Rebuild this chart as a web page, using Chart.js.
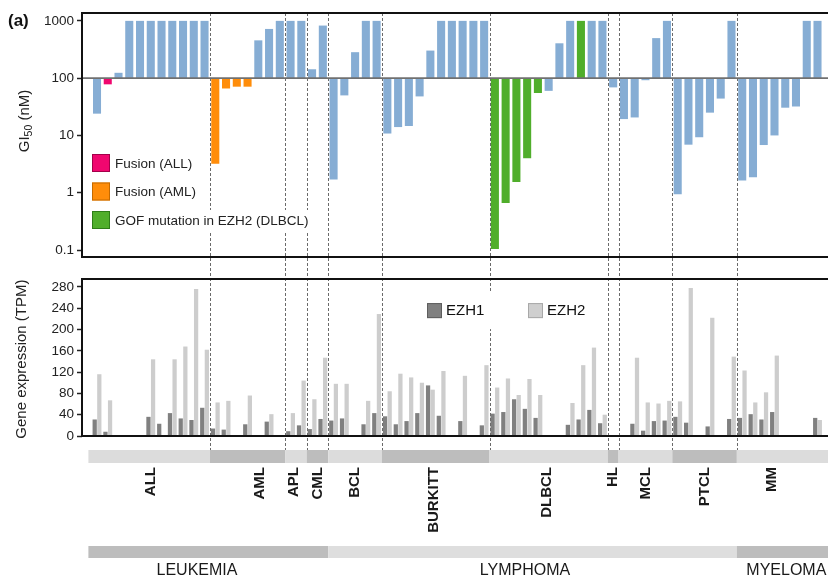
<!DOCTYPE html>
<html><head><meta charset="utf-8">
<script src="https://cdn.jsdelivr.net/npm/chart.js@4.4.1/dist/chart.umd.min.js"></script>
<style>
html,body{margin:0;padding:0;background:#fff;}
#wrap{position:relative;width:828px;height:578px;overflow:hidden;background:#fff;}
canvas{position:absolute;left:0;}
#top{top:0}
#bot{top:268px}
</style></head><body>
<div id="wrap"><canvas id="top" width="828" height="268"></canvas><canvas id="bot" width="828" height="310"></canvas></div>
<script>
// ---------------- DATA ----------------
const groupNames = ['ALL','AML','APL','CML','BCL','BURKITT','DLBCL','HL','MCL','PTCL','MM'];
const groupSizes = [11, 7, 2, 2, 5, 10, 11, 1, 5, 6, 8];
const superNames = ['LEUKEMIA','LYMPHOMA','MYELOMA'];
const superGroupCounts = [4, 6, 1];

// GI50 (nM) per cell line, bars drawn from 100 nM
const gi50 = [
  24, 78, 124, 1000, 1000, 1000, 1000, 1000, 1000, 1000, 1000,   // ALL
  3.2, 66, 71, 71, 457, 723, 1000,                               // AML
  1000, 1000,                                                    // APL
  143, 828,                                                      // CML
  1.7, 50, 284, 1000, 1000,                                      // BCL
  10.8, 14, 14.6, 48, 303, 1000, 1000, 1000, 1000, 1000,         // BURKITT
  0.104, 0.66, 1.54, 4.0, 55, 60, 406, 1000, 1000, 1000, 1000,   // DLBCL
  69,                                                            // HL
  19.3, 20.6, 92, 500, 1000,                                     // MCL
  0.94, 6.9, 9.3, 25, 44, 1000,                                  // PTCL
  1.63, 1.87, 6.8, 10, 30.5, 32, 1000, 1000                      // MM
];
// w = wild type, a = fusion (ALL), m = fusion (AML), g = GOF mutation in EZH2
const gi50Status = [
  'w','a','w','w','w','w','w','w','w','w','w',
  'm','m','m','m','w','w','w',
  'w','w',
  'w','w',
  'w','w','w','w','w',
  'w','w','w','w','w','w','w','w','w','w',
  'g','g','g','g','g','w','w','w','g','w','w',
  'w',
  'w','w','w','w','w',
  'w','w','w','w','w','w',
  'w','w','w','w','w','w','w','w'
];
// Gene expression (TPM)
const ezh1 = [
  31, 8, null, null, null, 36, 23, 43, 33, 30, 53,
  14, 12, null, 22, null, 27, null,
  9, 20,
  13, 32,
  29, 33, null, 22, 43,
  37, 22, 28, 43, 95, 38, null, 28, null, 20,
  42, 45, 69, 51, 34, null, null, 21, 31, 49, 24,
  null,
  null, 23, 10, 28, 29,
  36, 25, null, 18, null, 32,
  34, 41, 31, 45, null, null, null, 34
];
const ezh2 = [
  116, 67, null, null, null, 144, null, 144, 168, 276, 162,
  63, 66, null, 76, null, 41, null,
  43, 104,
  69, 147,
  98, 98, null, 66, 229,
  84, 117, 110, 100, 87, 122, null, 113, null, 133,
  91, 108, 77, 107, 77, null, null, 62, 133, 166, 40,
  null,
  null, 147, 63, 61, 66,
  65, 278, null, 222, null, 149,
  123, 63, 82, 151, null, null, null, 30
];
const gi50Ticks = [0.1, 1, 10, 100, 1000];
const tpmTicks = [0, 40, 80, 120, 160, 200, 240, 280];
const legendTop = ['Fusion (ALL)', 'Fusion (AML)', 'GOF mutation in EZH2 (DLBCL)'];
const legendBottom = ['EZH1', 'EZH2'];

// ---------------- LAYOUT / STYLE ----------------
const FONT = '"Liberation Sans", Arial, Helvetica, sans-serif';
Chart.defaults.font.family = FONT;
const X_MIN = -1.395, X_MAX = 67.79;
const statusColor = {w:'#86add4', a:'#f0076f', m:'#ff8d0a', g:'#50ae2b'};
const statusBorder = {a:'#a3004a', m:'#c46a00', g:'#2e7d18'};
const groupLabelPos = [4.93, 15.06, 18.2, 20.45, 23.9, 31.24, 41.75, 47.89, 50.95, 56.44, 62.67];
const superLabelPos = [9.3, 39.8, 64.1];
const BAND_START = -0.8, BAND_END = 68.5;

const groupStart = [];
(function(){ let a = 0; groupSizes.forEach(s => { groupStart.push(a); a += s; }); })();
const boundaries = groupStart.slice(1).map(s => s - 0.5);

function vline(ctx, x, y0, y1){ ctx.beginPath(); ctx.moveTo(x, y0); ctx.lineTo(x, y1); ctx.stroke(); }
function hline(ctx, x0, x1, y){ ctx.beginPath(); ctx.moveTo(x0, y); ctx.lineTo(x1, y); ctx.stroke(); }
function drawBorders(chart){
  const {ctx, chartArea:a, width} = chart;
  ctx.strokeStyle = '#111'; ctx.lineWidth = 2; ctx.setLineDash([]);
  hline(ctx, a.left - 1, width, a.top);
  hline(ctx, a.left - 1, width, a.bottom);
  vline(ctx, a.left, a.top, a.bottom);
}
function drawDashed(chart, y0, y1){
  const {ctx, scales:{x}} = chart;
  ctx.save();
  ctx.strokeStyle = '#6a6a6a'; ctx.lineWidth = 1; ctx.setLineDash([3, 2]);
  boundaries.forEach(b => { const px = Math.round(x.getPixelForValue(b)) + 0.5; vline(ctx, px, y0, y1); });
  ctx.restore();
}

const topPlugin = {
  id: 'topDeco',
  afterDraw(chart){
    const {ctx, chartArea:a, scales:{y}} = chart;
    ctx.save();
    // reference line at 100 nM
    const y100 = y.getPixelForValue(100);
    ctx.strokeStyle = '#707070'; ctx.lineWidth = 1.6;
    hline(ctx, a.left, chart.width, y100);
    drawDashed(chart, a.top, chart.height);
    // legend
    const lx = a.left + 10, ly0 = a.top + 141, dy = 28.5, bs = 18;
    const codes = ['a', 'm', 'g'];
    ctx.font = '13.5px ' + FONT;
    legendTop.forEach((t, k) => {
      const yy = ly0 + k * dy;
      const w = ctx.measureText(t).width;
      ctx.fillStyle = '#fff'; ctx.fillRect(lx + bs + 2, yy - 1, w + 6, bs + 3);
      ctx.fillStyle = statusColor[codes[k]]; ctx.fillRect(lx, yy, bs, bs);
      ctx.strokeStyle = statusBorder[codes[k]]; ctx.lineWidth = 1; ctx.strokeRect(lx + 0.5, yy + 0.5, bs - 1, bs - 1);
      ctx.fillStyle = '#222'; ctx.textAlign = 'left'; ctx.textBaseline = 'middle';
      ctx.fillText(t, lx + bs + 5, yy + bs / 2 + 1);
    });
    drawBorders(chart);
    // panel tag
    ctx.fillStyle = '#111'; ctx.font = 'bold 17px ' + FONT; ctx.textAlign = 'left'; ctx.textBaseline = 'middle';
    ctx.fillText('(a)', 8, 21);
    // y title  GI50 (nM)
    ctx.translate(24, 121); ctx.rotate(-Math.PI / 2);
    ctx.font = '15px ' + FONT;
    const w1 = ctx.measureText('GI').width;
    ctx.font = '10.5px ' + FONT; const w2 = ctx.measureText('50').width;
    ctx.font = '15px ' + FONT; const w3 = ctx.measureText(' (nM)').width;
    const tot = w1 + w2 + w3; let cx = -tot / 2;
    ctx.fillStyle = '#222'; ctx.textBaseline = 'alphabetic';
    ctx.fillText('GI', cx, 5); cx += w1;
    ctx.font = '10.5px ' + FONT; ctx.fillText('50', cx, 8); cx += w2;
    ctx.font = '15px ' + FONT; ctx.fillText(' (nM)', cx, 5);
    ctx.restore();
  }
};

const botPlugin = {
  id: 'botDeco',
  afterDraw(chart){
    const {ctx, chartArea:a, scales:{x}} = chart;
    ctx.save();
    const bandTop = a.bottom + 14;
    drawDashed(chart, 0, bandTop);
    // legend with white background
    ctx.fillStyle = '#fff'; ctx.fillRect(420, a.top + 13, 178, 37);
    const lcol = ['#808080', '#cfcfcf'], lbor = ['#5e5e5e', '#a8a8a8'];
    const lxs = [427, 528];
    ctx.font = '15px ' + FONT;
    legendBottom.forEach((t, k) => {
      ctx.fillStyle = lcol[k]; ctx.fillRect(lxs[k], a.top + 24, 15, 15);
      ctx.strokeStyle = lbor[k]; ctx.lineWidth = 1; ctx.strokeRect(lxs[k] + 0.5, a.top + 24.5, 14, 14);
      ctx.fillStyle = '#111'; ctx.textAlign = 'left'; ctx.textBaseline = 'middle';
      ctx.fillText(t, lxs[k] + 19, a.top + 32);
    });
    drawBorders(chart);
    // subtype bands
    const px = v => x.getPixelForValue(v);
    groupNames.forEach((g, k) => {
      const s = k === 0 ? BAND_START : groupStart[k] - 0.5;
      const e = k === groupNames.length - 1 ? BAND_END : groupStart[k + 1] - 0.5;
      ctx.fillStyle = k % 2 === 0 ? '#dcdcdc' : '#bdbdbd';
      ctx.fillRect(px(s), bandTop, px(e) - px(s), 13);
      ctx.save();
      ctx.translate(px(groupLabelPos[k]), a.bottom + 31);
      ctx.rotate(-Math.PI / 2);
      ctx.font = 'bold 15px ' + FONT; ctx.fillStyle = '#1a1a1a';
      ctx.textAlign = 'right'; ctx.textBaseline = 'middle';
      ctx.fillText(g, 0, 1);
      ctx.restore();
    });
    // lineage bands
    let gi = 0;
    superNames.forEach((n, k) => {
      const g0 = gi, g1 = gi + superGroupCounts[k]; gi = g1;
      const s = g0 === 0 ? BAND_START : groupStart[g0] - 0.5;
      const e = g1 >= groupNames.length ? BAND_END : groupStart[g1] - 0.5;
      ctx.fillStyle = k % 2 === 0 ? '#bdbdbd' : '#dedede';
      ctx.fillRect(px(s), a.bottom + 110, px(e) - px(s), 12);
      ctx.font = '16px ' + FONT; ctx.fillStyle = '#1a1a1a';
      ctx.textAlign = 'center'; ctx.textBaseline = 'middle';
      ctx.fillText(n, px(superLabelPos[k]), a.bottom + 135);
    });
    // y title
    ctx.translate(22, a.top + 80); ctx.rotate(-Math.PI / 2);
    ctx.font = '15px ' + FONT; ctx.fillStyle = '#222';
    ctx.textAlign = 'center'; ctx.textBaseline = 'middle';
    ctx.fillText('Gene expression (TPM)', 0, 0);
    ctx.restore();
  }
};

const yTickStyle = {
  font: {family: FONT, size: 13.5}, color: '#222', padding: 3, autoSkip: false, maxRotation: 0,
  callback: v => String(v)
};
const yGrid = {drawOnChartArea: false, drawTicks: true, tickLength: 5, tickWidth: 1.5, tickColor: '#222'};
const xScale = {type: 'linear', min: X_MIN, max: X_MAX, bounds: 'data', offset: false, display: false};

new Chart(document.getElementById('top'), {
  type: 'bar',
  data: {datasets: [{
    data: gi50.map((v, i) => ({x: i, y: [100, v]})),
    backgroundColor: gi50Status.map(s => statusColor[s]),
    borderWidth: 0, barPercentage: 0.75, categoryPercentage: 1
  }]},
  options: {
    responsive: false, animation: false, devicePixelRatio: 1,
    layout: {padding: {left: 0, right: 2, top: 13, bottom: 7}},
    plugins: {legend: {display: false}, tooltip: {enabled: false}},
    scales: {
      x: xScale,
      y: {type: 'logarithmic', min: 0.0758, max: 1372, bounds: 'data',
          afterBuildTicks: s => { s.ticks = gi50Ticks.map(v => ({value: v})); },
          afterFit: s => { s.width = 82; },
          ticks: yTickStyle, grid: yGrid, border: {display: false}}
    }
  },
  plugins: [topPlugin]
});

new Chart(document.getElementById('bot'), {
  type: 'bar',
  data: {datasets: [
    {label: legendBottom[0], data: ezh1.map((v, i) => ({x: i, y: v})), backgroundColor: '#808080',
     borderWidth: 0, barPercentage: 0.92, categoryPercentage: 0.86},
    {label: legendBottom[1], data: ezh2.map((v, i) => ({x: i, y: v})), backgroundColor: '#cdcdcd',
     borderWidth: 0, barPercentage: 0.92, categoryPercentage: 0.86}
  ]},
  options: {
    responsive: false, animation: false, devicePixelRatio: 1,
    layout: {padding: {left: 0, right: 2, top: 7, bottom: 142}},
    plugins: {legend: {display: false}, tooltip: {enabled: false}},
    scales: {
      x: xScale,
      y: {type: 'linear', min: 0, max: 294.6, bounds: 'data',
          afterBuildTicks: s => { s.ticks = tpmTicks.map(v => ({value: v})); },
          afterFit: s => { s.width = 82; },
          ticks: yTickStyle, grid: yGrid, border: {display: false}}
    }
  },
  plugins: [botPlugin]
});
</script>
</body></html>
